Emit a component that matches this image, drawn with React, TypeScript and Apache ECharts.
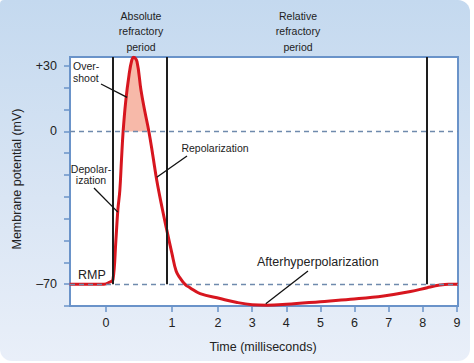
import React, { useEffect, useRef } from "react";
import * as echarts from "echarts";

// ---- Data ----
const TIME_MS = [
  -0.55, -0.03, 0.06, 0.106, 0.15, 0.18, 0.21, 0.235, 0.26, 0.3, 0.35, 0.39, 0.42, 0.47, 0.53,
  0.59, 0.65, 0.71, 0.77, 0.85, 0.92, 1.0, 1.09, 1.17, 1.28, 1.39, 1.61, 2.06, 2.56, 3.0, 3.44,
  4.0, 5.0, 5.88, 6.85, 7.64, 8.13, 8.5, 8.75, 9.03,
];
const POTENTIAL_MV = [
  -70, -70, -69, -68, -50, -36, -27, -13, 0, 14, 26, 32.5, 34, 32, 19,
  9, 0, -11, -22.5, -35, -45, -56, -64, -67, -70, -71.6, -74.3, -76.6, -78.4, -79.4, -79.6,
  -79.2, -78.0, -76.9, -75.4, -73.4, -71.6, -70.4, -70, -70,
];
const X_TICKS_MS = [0, 1, 2, 3, 4, 5, 6, 7, 8, 9];
const Y_TICKS_MV = [-80, -70, -60, -50, -40, -30, -20, -10, 0, 10, 20, 30];
const Y_LABELS_MV = [30, 0, -70];
const REFERENCE_MV = [0, -70];
const REFRACTORY_MARKERS_MS = [0.106, 0.92, 8.12];
const X_RANGE_MS = [-0.545, 9.03];
const Y_RANGE_MV = [-80, 34.1];
const RESTING_MV = -70;

// Non-linear time axis of the drawing: ms per segment stretched differently
const SEGMENT_SCALE = [66, 46, 34.14];
function warp(t: number): number {
  if (t <= 1) return t * SEGMENT_SCALE[0];
  if (t <= 2) return SEGMENT_SCALE[0] + (t - 1) * SEGMENT_SCALE[1];
  return SEGMENT_SCALE[0] + SEGMENT_SCALE[1] + (t - 2) * SEGMENT_SCALE[2];
}

const FONT = '"Liberation Sans", Arial, Helvetica, sans-serif';
const TEXT = "#222";
const FRAME = "#6a93c9";
const RED = "#d7161f";

export default function App() {
  const ref = useRef<HTMLDivElement>(null);
  useEffect(() => {
    const chart = echarts.init(ref.current!, null, { renderer: "svg" });
    const curve = TIME_MS.map((t, i) => [warp(t), POTENTIAL_MV[i]]);
    const overshoot = TIME_MS.map((t, i) => [warp(t), POTENTIAL_MV[i]]).filter(
      (_, i) => POTENTIAL_MV[i] >= 0 && TIME_MS[i] > 0 && TIME_MS[i] < 1
    );
    const xTickVals = X_TICKS_MS.map(warp);
    chart.setOption({
      animation: false,
      backgroundColor: "transparent",
      grid: {
        left: 70,
        top: 57,
        width: 388,
        height: 249,
        show: true,
        backgroundColor: "#ffffff",
        borderColor: FRAME,
        borderWidth: 2,
      },
      xAxis: {
        type: "value",
        min: warp(X_RANGE_MS[0]),
        max: warp(X_RANGE_MS[1]),
        splitLine: { show: false },
        axisLine: { show: true, onZero: false, lineStyle: { color: FRAME, width: 2 } },
        axisTick: { show: true, length: 6, customValues: xTickVals, lineStyle: { color: FRAME, width: 1.5 } },
        axisLabel: {
          customValues: xTickVals,
          margin: 10,
          color: TEXT,
          fontFamily: FONT,
          fontSize: 12.5,
          formatter: (v: number) => {
            const i = xTickVals.findIndex((x) => Math.abs(x - v) < 1e-6);
            return i >= 0 ? String(X_TICKS_MS[i]) : "";
          },
        },
      },
      yAxis: {
        type: "value",
        min: Y_RANGE_MV[0],
        max: Y_RANGE_MV[1],
        splitLine: { show: false },
        axisLine: { show: true, onZero: false, lineStyle: { color: FRAME, width: 2 } },
        axisTick: { show: true, length: 6, customValues: Y_TICKS_MV, lineStyle: { color: FRAME, width: 1.5 } },
        axisLabel: {
          customValues: Y_LABELS_MV,
          margin: 13,
          color: TEXT,
          fontFamily: FONT,
          fontSize: 12.5,
          formatter: (v: number) => (v > 0 ? "+" + v : v < 0 ? "\u2013" + Math.abs(v) : "0"),
        },
      },
      series: [
        {
          type: "line",
          data: overshoot,
          smooth: 0.3,
          smoothMonotone: "x",
          symbol: "none",
          lineStyle: { width: 0 },
          areaStyle: { color: "#f7b9a9", opacity: 1, origin: "auto" },
          z: 1,
          silent: true,
        },
        {
          type: "line",
          data: [],
          symbol: "none",
          markLine: {
            silent: true,
            symbol: ["none", "none"],
            label: { show: false },
            lineStyle: { color: "#6f8aad", width: 1.3, type: [5, 4] },
            data: REFERENCE_MV.map((v) => ({ yAxis: v })),
          },
          z: 2,
        },
        {
          type: "line",
          data: [],
          symbol: "none",
          markLine: {
            silent: true,
            symbol: ["none", "none"],
            label: { show: false },
            lineStyle: { color: "#1e1e1e", width: 2, type: "solid" },
            data: REFRACTORY_MARKERS_MS.map((t) => [
              { coord: [warp(t), RESTING_MV] },
              { coord: [warp(t), Y_RANGE_MV[1]] },
            ]),
          },
          z: 3,
        },
        {
          type: "line",
          data: curve,
          smooth: 0.4,
          symbol: "none",
          lineStyle: { color: RED, width: 3 },
          z: 4,
        },
      ],
    });

    const px = (t: number, v: number) =>
      chart.convertToPixel({ gridIndex: 0 }, [warp(t), v]) as number[];
    const leader = (x1: number, y1: number, p: number[]) => ({
      type: "line",
      z: 50,
      shape: { x1, y1, x2: p[0], y2: p[1] },
      style: { stroke: "#111", lineWidth: 1.3 },
    });
    const txt = (
      text: string,
      x: number,
      y: number,
      size: number,
      align: string,
      extra: any = {}
    ) => ({
      type: "text",
      x,
      y,
      z: 60,
      style: {
        text,
        fill: TEXT,
        font: `${size}px ${FONT}`,
        textAlign: align,
        textVerticalAlign: "top",
        lineHeight: extra.lineHeight || size * 1.2,
      },
    });

    chart.setOption({
      graphic: [
        txt("Absolute\nrefractory\nperiod", 141, 8, 10.5, "center", { lineHeight: 15.5 }),
        txt("Relative\nrefractory\nperiod", 298, 8, 10.5, "center", { lineHeight: 15.5 }),
        txt("Over-\nshoot", 73, 60.5, 10.5, "left", { lineHeight: 11.5 }),
        txt("Depolar-\nization", 91, 163, 10.5, "center", { lineHeight: 11.5 }),
        txt("Repolarization", 215, 142, 10.5, "center"),
        txt("RMP", 78, 267, 12.5, "left"),
        txt("Afterhyperpolarization", 257, 254, 12.5, "left"),
        txt("Time (milliseconds)", 263, 339, 12.5, "center"),
        {
          type: "text",
          x: 17,
          y: 179,
          rotation: Math.PI / 2,
          z: 60,
          style: {
            text: "Membrane potential (mV)",
            fill: TEXT,
            font: `12.5px ${FONT}`,
            textAlign: "center",
            textVerticalAlign: "middle",
          },
        },
        leader(101, 84, px(0.32, 15.6)),
        leader(94, 188, px(0.18, -37)),
        leader(187, 156, px(0.77, -21)),
        leader(308, 271, px(3.4, -79)),
      ],
    });
    return () => chart.dispose();
  }, []);

  return (
    <div
      style={{
        position: "fixed",
        left: 0,
        top: 0,
        width: 474,
        height: 363,
        background: "#ffffff",
      }}
    >
      <div
        style={{
          position: "absolute",
          left: 0,
          top: 0,
          width: 470,
          height: 361,
          borderRadius: "4px 12px 12px 12px",
          background: "linear-gradient(180deg, #c4d9ef 0%, #d9e5f4 55%, #e9eff9 100%)",
        }}
      />
      <div ref={ref} style={{ position: "absolute", left: 0, top: 0, width: 474, height: 363 }} />
    </div>
  );
}
